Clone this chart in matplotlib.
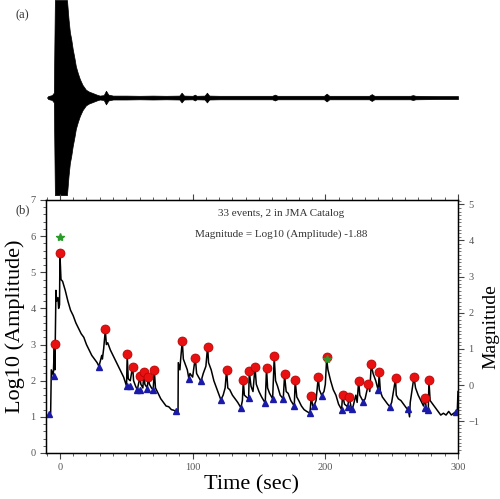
import numpy as np
import matplotlib.pyplot as plt
from matplotlib.ticker import MultipleLocator

plt.rcParams['font.family'] = ['Liberation Serif', 'DejaVu Serif']

### Data ###
# (a) waveform envelope: time (sec) and half-amplitude (fraction of clip level)
wave_t = [-9, -6, -4.6, -3.8, 5.3, 6.5, 7.5, 8.5, 9.6, 11, 12, 13.5, 15, 17, 19.6, 22,
          24, 27.7, 30, 33, 34.7, 36.5, 40, 50, 60, 70, 80, 90, 91.7, 93.5, 100, 101.7,
          103, 109, 110.8, 112.5, 120, 140, 160, 162, 164, 180, 199, 201, 203, 220,
          233, 235, 237, 250, 264, 266, 268, 285, 300]
wave_a = [0.015, 0.025, 0.05, 1.0, 1.0, 0.8, 0.67, 0.6, 0.5, 0.4, 0.32, 0.25, 0.19,
          0.13, 0.08, 0.06, 0.05, 0.03, 0.02, 0.025, 0.07, 0.03, 0.02, 0.02, 0.018,
          0.02, 0.018, 0.02, 0.05, 0.02, 0.018, 0.03, 0.018, 0.02, 0.05, 0.02, 0.018,
          0.018, 0.018, 0.03, 0.018, 0.018, 0.018, 0.04, 0.018, 0.018, 0.018, 0.035,
          0.018, 0.018, 0.018, 0.025, 0.018, 0.015, 0.015]

# (b) log10 amplitude envelope
env_t = [-8.5, -7, -6.5, -5, -4.2, -3.8, -3, -2.5, -1.5, -1, -0.3, 0, 0.8, 2, 4, 6, 8,
         10, 12, 14, 16, 18, 20, 22, 24, 26, 28, 29.4, 30.5, 31.5, 32, 33, 34.2, 35,
         36, 38, 40, 42, 44, 46, 48, 50.2, 50.7, 51.5, 53, 54.8, 55.5, 57, 58.3, 60.3,
         61, 62.5, 63.3, 64, 65.8, 66.6, 67.5, 69, 70.3, 71.1, 72, 74, 76, 78, 80, 82,
         84, 86, 87.4, 89, 89.2, 90.4, 91, 92.2, 93, 94, 96, 97.2, 98, 100, 102, 103,
         104.5, 106.3, 108, 110, 111.3, 112, 114, 116, 118, 120, 121.3, 123, 124.5,
         125.6, 126.5, 128, 130, 132, 134, 136.4, 137.5, 138.2, 139, 140.5, 142.2,
         142.7, 144, 145.5, 147, 148, 150, 152, 154.7, 155.7, 156.5, 158, 160.3, 161.5,
         162.5, 164, 166, 168.3, 169.3, 170.5, 172, 174, 176.6, 177.3, 178.5, 180, 182,
         184, 186, 188.4, 189.4, 190.5, 191.4, 193, 194.7, 195.5, 197.2, 199, 200, 201,
         202, 204, 206, 208, 210, 212.3, 213, 214.5, 216.8, 218, 219.8, 221, 223, 224,
         225.1, 226, 228.6, 230, 232.4, 233.5, 234.6, 236, 238, 239.9, 240.6, 241.5,
         243, 245, 247, 248.7, 250, 252.9, 253.5, 255, 257, 259, 261, 262.5, 263.5,
         264, 266.8, 268, 270, 272, 274, 275.3, 276, 277.6, 278.1, 279, 281, 283, 285,
         287, 289, 291, 293, 295, 298.2, 299.5, 300]
env_l = [1.05, 1.1, 2.3, 2.15, 3.0, 2.3, 4.5, 4.2, 4.3, 4.0, 4.1, 5.5, 4.8, 4.75, 4.5,
         4.2, 3.95, 3.8, 3.6, 3.45, 3.3, 3.2, 3.0, 2.85, 2.7, 2.6, 2.5, 2.4, 2.55, 2.7,
         2.6, 2.9, 3.4, 3.0, 3.05, 2.85, 2.7, 2.55, 2.4, 2.25, 2.1, 1.85, 2.7, 2.05, 2.0,
         2.4, 2.0, 1.85, 1.75, 2.1, 1.9, 1.8, 2.25, 1.9, 1.8, 2.1, 1.9, 1.8, 1.75, 2.3,
         1.8, 1.65, 1.5, 1.4, 1.3, 1.28, 1.2, 1.18, 1.15, 1.1, 2.5, 2.3, 2.6, 3.1, 2.6,
         2.5, 2.3, 2.05, 2.2, 2.1, 2.65, 2.2, 2.1, 1.98, 2.2, 2.4, 2.95, 2.5, 2.3, 2.0,
         1.8, 1.6, 1.47, 1.6, 1.8, 2.3, 1.8, 1.75, 1.6, 1.5, 1.4, 1.25, 1.45, 2.0, 1.6,
         1.55, 1.5, 2.25, 1.85, 1.7, 2.38, 1.9, 1.7, 1.55, 1.38, 2.35, 1.8, 1.65, 1.5,
         2.65, 2.0, 1.85, 1.6, 1.5, 2.15, 1.7, 1.65, 1.45, 1.3, 2.0, 1.55, 1.45, 1.3,
         1.2, 1.15, 1.1, 1.55, 1.3, 1.3, 1.45, 2.1, 1.75, 1.6, 1.7, 1.9, 2.6, 2.3, 2.0,
         1.75, 1.6, 1.35, 1.2, 1.6, 1.35, 1.28, 1.55, 1.2, 1.3, 1.6, 1.4, 2.0, 1.6, 1.42,
         1.5, 1.9, 1.7, 2.45, 2.2, 2.0, 1.73, 2.2, 1.7, 1.55, 1.45, 1.35, 1.28, 1.4,
         2.05, 1.6, 1.5, 1.45, 1.35, 1.25, 1.2, 1.0, 1.4, 2.1, 1.8, 1.6, 1.45, 1.3, 1.5,
         1.25, 1.2, 2.0, 1.45, 1.35, 1.25, 1.15, 1.05, 1.1, 1.05, 1.15, 1.05, 1.14, 1.2,
         1.7]

# detected event peaks (red circles)
peak_t = [-4, 0, 34.2, 50.7, 54.8, 60.3, 63.3, 66.6, 71.1, 92.2, 102, 111.3, 125.6,
          138.2, 142.7, 147, 155.7, 161.5, 169.3, 177.3, 189.4, 194.7, 201, 213, 218,
          225.1, 232.4, 234.6, 240.6, 252.9, 266.8, 275.3, 278.1]
peak_l = [3.01, 5.53, 3.42, 2.73, 2.39, 2.14, 2.25, 2.10, 2.29, 3.11, 2.64, 2.93, 2.29,
          2.02, 2.27, 2.38, 2.35, 2.67, 2.18, 2.02, 1.59, 2.11, 2.65, 1.61, 1.56, 2.0,
          1.91, 2.46, 2.23, 2.07, 2.11, 1.52, 2.02]

# event onsets (blue triangles)
onset_t = [-8.3, -4.5, 29.4, 50.2, 52.5, 58.3, 60.5, 65.8, 70.3, 87.4, 97.2, 106.3,
           121.3, 136.4, 142.2, 154.7, 160.3, 168.3, 176.6, 188.4, 191.4, 197.2, 212.3,
           216.8, 219.8, 228.6, 239.9, 248.7, 262.5, 275.1, 277.6, 298.2]
onset_l = [1.07, 2.14, 2.39, 1.84, 1.85, 1.73, 1.75, 1.77, 1.75, 1.15, 2.05, 1.98, 1.47,
           1.24, 1.51, 1.38, 1.50, 1.50, 1.30, 1.10, 1.30, 1.59, 1.19, 1.28, 1.21, 1.42,
           1.73, 1.28, 1.21, 1.24, 1.19, 1.14]

# JMA catalog events (green stars)
jma_t = [0, 201]
jma_l = [5.98, 2.6]

MAG_OFFSET = -1.88

### Figure ###
fig = plt.figure(figsize=(5.0, 4.99), dpi=100)

# (a) waveform
ax1 = fig.add_axes([0.092, 0.609, 0.824, 0.391])
ax1.plot(wave_t, np.zeros(len(wave_t)), color='#333333', lw=1.2, zorder=1)
ax1.fill_between(wave_t, -np.array(wave_a), wave_a, color='black', lw=0.5, zorder=2)
ax1.set_xlim(-10.5, 300)
ax1.set_ylim(-1, 1)
ax1.axis('off')
fig.text(0.03, 0.97, '(a)', fontsize=9, color='#333333', ha='left', va='center')

# (b) amplitude / magnitude
ax = fig.add_axes([0.092, 0.0922, 0.824, 0.507])
ax.plot(env_t, env_l, color='black', lw=1.1, zorder=2)
ax.plot(onset_t, onset_l, '^', color='#1a1aa8', ms=5, zorder=3)
ax.plot(peak_t, peak_l, 'o', color='#e81010', mec='#b00000', mew=0.5, ms=6.5, zorder=4)
ax.plot(jma_t, jma_l, '*', color='#2a9a2a', ms=6, zorder=5)

ax.set_xlim(-10.5, 300)
ax.set_ylim(0, 7)
ax.xaxis.set_major_locator(MultipleLocator(100))
ax.xaxis.set_minor_locator(MultipleLocator(10))
ax.yaxis.set_major_locator(MultipleLocator(1))
ax.yaxis.set_minor_locator(MultipleLocator(0.2))
ax.tick_params(which='both', direction='out', top=True, colors='#444444',
               labelsize=7.5, labelcolor='#555555')
ax.tick_params(which='major', length=4, width=0.8)
ax.tick_params(which='minor', length=2, width=0.6)
for s in ax.spines.values():
    s.set_linewidth(1.0)
ax.set_xlabel('Time (sec)', fontsize=16, labelpad=2)
ax.set_ylabel('Log10 (Amplitude)', fontsize=16, labelpad=4)

ax2 = ax.twinx()
ax2.set_ylim(0 + MAG_OFFSET, 7 + MAG_OFFSET)
ax2.yaxis.set_major_locator(MultipleLocator(1))
ax2.yaxis.set_minor_locator(MultipleLocator(0.1))
ax2.tick_params(which='both', direction='out', colors='#444444', labelsize=7.5,
                labelcolor='#555555')
ax2.tick_params(which='major', length=4, width=0.8)
ax2.tick_params(which='minor', length=2, width=0.5)
ax2.set_ylabel('Magnitude', fontsize=14, labelpad=2, rotation=90)

ax.text(0.57, 0.945, '33 events, 2 in JMA Catalog', transform=ax.transAxes,
        ha='center', va='center', fontsize=8, color='#333333')
ax.text(0.57, 0.865, 'Magnitude = Log10 (Amplitude) -1.88', transform=ax.transAxes,
        ha='center', va='center', fontsize=8, color='#333333')
fig.text(0.03, 0.578, '(b)', fontsize=9, color='#333333', ha='left', va='center')

fig.savefig('out.png', dpi=100)
